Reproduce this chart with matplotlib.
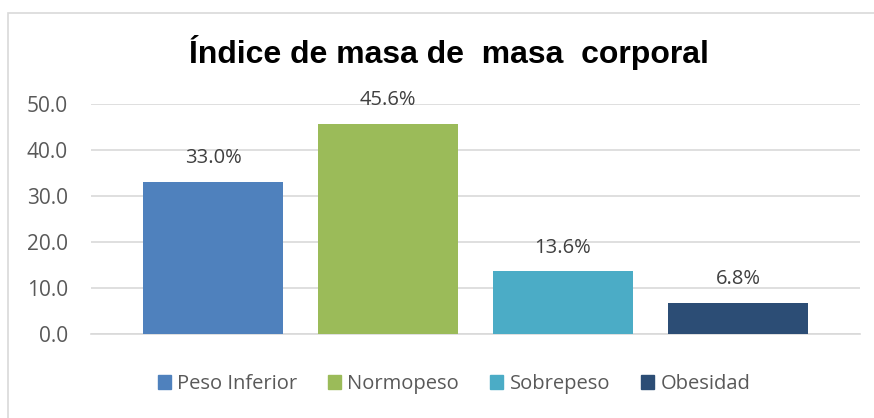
import numpy as np
import matplotlib.pyplot as plt
from matplotlib.patches import Rectangle, Patch

# datos
categorias = ['Peso Inferior', 'Normopeso', 'Sobrepeso', 'Obesidad']
valores = [33.0, 45.6, 13.6, 6.8]
etiquetas = ['33.0%', '45.6%', '13.6%', '6.8%']
colores = ['#4F81BD', '#9BBB59', '#4BACC6', '#2C4D75']
ticks_y = [0, 10, 20, 30, 40, 50]

plt.rcParams['font.family'] = ['Open Sans', 'DejaVu Sans']

fig = plt.figure(figsize=(8.74, 4.18), dpi=100)
W, H = 874, 418
ax = fig.add_axes([91 / W, 1 - 334 / H, (860 - 91) / W, (334 - 104) / H])

# borde exterior
fig.patches.append(Rectangle((8 / W, -0.1), 1.2, 1 - 13 / H + 0.1, transform=fig.transFigure,
                             fill=False, edgecolor='#d9d9d9', linewidth=1.2))

x = np.arange(len(categorias))
barras = ax.bar(x, valores, width=0.8, color=colores, zorder=3)
for xi, v, t in zip(x, valores, etiquetas):
    ax.text(xi, v + 4.1, t, ha='center', va='baseline', fontsize=14.5, color='#404040')

ax.set_xlim(-0.697, 3.697)
ax.set_ylim(0, 50)
ax.set_yticks(ticks_y)
ax.set_yticklabels([f'{t:.1f}' for t in ticks_y], fontsize=15, color='#595959')
ax.set_xticks([])
ax.yaxis.grid(True, color='#d9d9d9', linewidth=1.2, zorder=0)
ax.tick_params(axis='y', length=0, pad=16.5)
for s in ['top', 'right', 'left']:
    ax.spines[s].set_visible(False)
ax.spines['bottom'].set_color('#d9d9d9')
ax.spines['bottom'].set_linewidth(1.2)

fig.text(449 / W, 1 - 52 / H, 'Índice de masa de  masa  corporal', ha='center', va='center',
         fontsize=23, fontweight='bold', family='Liberation Sans', color='black')

handles = [Patch(color=c) for c in colores]
fig.legend(handles, categorias, loc='center', bbox_to_anchor=(454 / W, 1 - 384 / H), ncol=4,
           frameon=False, fontsize=14.5, handlelength=0.65, handleheight=0.65,
           handletextpad=0.3, columnspacing=1.55, labelcolor='#595959')

fig.savefig('out.png', dpi=100)
